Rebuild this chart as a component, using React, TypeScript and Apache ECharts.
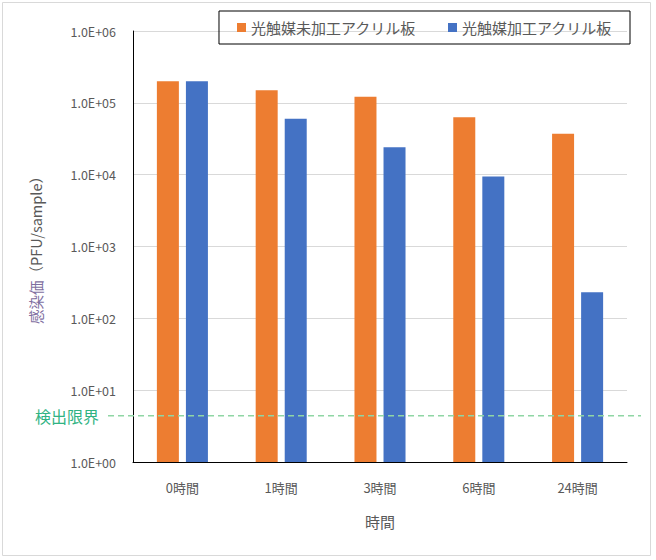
import React, { useEffect, useRef } from "react";
import * as echarts from "echarts";

const categories = ["0時間", "1時間", "3時間", "6時間", "24時間"];
const untreated = [200000, 150000, 122000, 63000, 37000];
const treated = [200000, 60000, 24000, 9400, 230];
const seriesNames = ["光触媒未加工アクリル板", "光触媒加工アクリル板"];
const detectionLimit = 4.4;

function fmt(v: number): string {
  const e = Math.round(Math.log10(v));
  const s = e < 10 ? "0" + e : String(e);
  return "1.0E+" + s;
}

export default function App() {
  const ref = useRef<HTMLDivElement>(null);
  useEffect(() => {
    document.body.style.margin = "0";
    const chart = echarts.init(ref.current!, null, { renderer: "svg" });
    const font = "'Noto Sans CJK JP', 'Noto Sans', sans-serif";
    chart.setOption({
      animation: false,
      textStyle: { fontFamily: font },
      grid: { left: 133, right: 29, top: 31, bottom: 98, containLabel: false },
      legend: {
        data: seriesNames,
        top: 11,
        right: 26,
        padding: [9, 18, 9, 18],
        borderColor: "#000",
        borderWidth: 1,
        itemWidth: 9,
        itemHeight: 9,
        itemGap: 32,
        icon: "rect",
        textStyle: { fontSize: 15, color: "#595959", fontFamily: font },
      },
      xAxis: {
        type: "category",
        data: categories,
        axisLine: { lineStyle: { color: "#000", width: 1 } },
        axisTick: { show: false },
        axisLabel: { color: "#595959", fontSize: 13, margin: 19 },
        name: "時間",
        nameLocation: "middle",
        nameGap: 52,
        nameTextStyle: { color: "#595959", fontSize: 15 },
      },
      yAxis: {
        type: "log",
        logBase: 10,
        min: 1,
        max: 1000000,
        axisLine: { show: true, lineStyle: { color: "#000", width: 1 } },
        axisTick: { show: false },
        splitLine: { lineStyle: { color: "#d9d9d9" } },
        axisLabel: { color: "#595959", fontSize: 12.5, margin: 17, formatter: fmt },
        name: "{a|感染価}{b|（PFU/sample）}",
        nameLocation: "middle",
        nameGap: 90,
        nameRotate: 90,
        nameTextStyle: {
          rich: {
            a: { color: "#7f6f9f", fontSize: 14.5 },
            b: { color: "#595959", fontSize: 14.5 },
          },
        },
      },
      series: [
        {
          name: seriesNames[0],
          type: "bar",
          data: untreated,
          barWidth: 22,
          barGap: "32%",
          itemStyle: { color: "#ed7d31" },
        },
        {
          name: seriesNames[1],
          type: "bar",
          data: treated,
          barWidth: 22,
          itemStyle: { color: "#4472c4" },
        },
      ],
    });
    const y = chart.convertToPixel({ yAxisIndex: 0 }, detectionLimit) as number;
    chart.setOption({
      graphic: [
        {
          type: "rect",
          shape: { x: 2.5, y: 2.5, width: 648, height: 553 },
          style: { fill: "none", stroke: "#d9d9d9", lineWidth: 1 },
          silent: true,
        },
        {
          type: "line",
          shape: { x1: 108, y1: y, x2: 641, y2: y },
          style: { stroke: "#8fd6a4", lineWidth: 1.5, lineDash: [6, 4] },
          z: 10,
          silent: true,
        },
        {
          type: "text",
          x: 35,
          y: y,
          style: {
            text: "検出限界",
            fill: "#2fb383",
            fontSize: 16,
            fontFamily: font,
            verticalAlign: "middle",
          },
          silent: true,
        },
      ],
    });
    return () => chart.dispose();
  }, []);
  return <div ref={ref} style={{ width: 656, height: 560 }} />;
}
